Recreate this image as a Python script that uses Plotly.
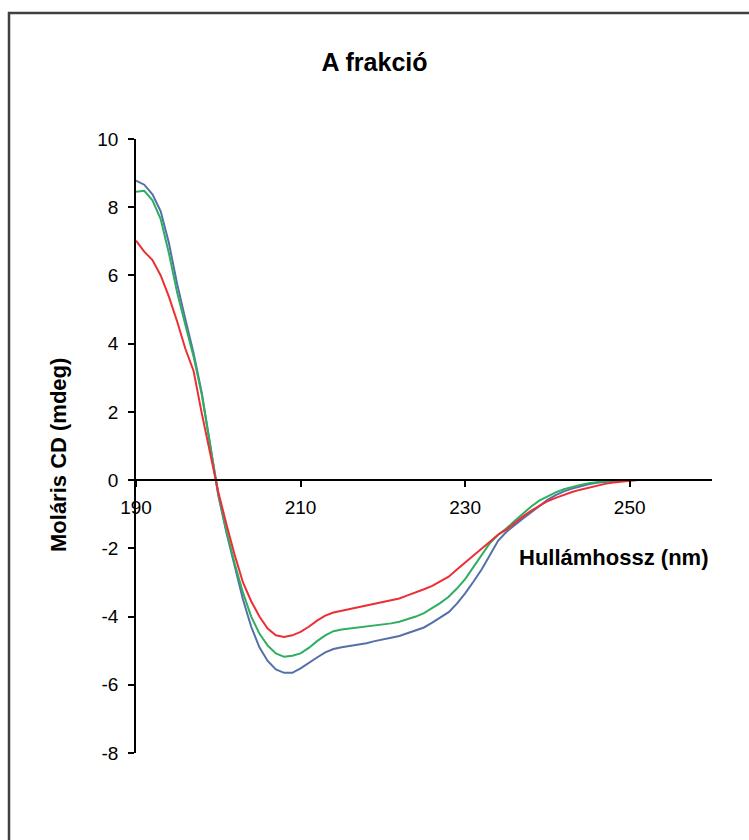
import plotly.graph_objects as go

# Wavelength grid (nm)
wavelength = [190, 191, 192, 193, 194, 195, 196, 197, 198, 199,
              200, 201, 202, 203, 204, 205, 206, 207, 208, 209,
              210, 211, 212, 213, 214, 215, 216, 217, 218, 219,
              220, 221, 222, 223, 224, 225, 226, 227, 228, 229,
              230, 231, 232, 233, 234, 235, 236, 237, 238, 239,
              240, 241, 242, 243, 244, 245, 246, 247, 248, 249,
              250, 251, 252, 253, 254, 255, 256, 257, 258, 259, 260]

# Molar CD (mdeg) for the three measurements
cd_blue = [8.78, 8.66, 8.38, 7.88, 6.95, 5.75, 4.72, 3.72, 2.55, 1.05,
           -0.45, -1.55, -2.55, -3.5, -4.3, -4.9, -5.3, -5.55, -5.65, -5.65,
           -5.52, -5.35, -5.2, -5.05, -4.95, -4.9, -4.86, -4.83, -4.78, -4.72,
           -4.66, -4.62, -4.57, -4.48, -4.4, -4.32, -4.18, -4.03, -3.87, -3.62,
           -3.32, -2.98, -2.62, -2.2, -1.78, -1.52, -1.32, -1.13, -0.95, -0.77,
           -0.58, -0.44, -0.33, -0.25, -0.18, -0.12, -0.08, -0.05, -0.03, -0.01,
           0, 0, 0, 0, 0, 0, 0, 0, 0, 0, 0]

cd_green = [8.45, 8.48, 8.2, 7.65, 6.65, 5.5, 4.55, 3.62, 2.5, 1.0,
            -0.4, -1.5, -2.45, -3.3, -4.0, -4.5, -4.85, -5.08, -5.18, -5.15,
            -5.08, -4.92, -4.72, -4.55, -4.43, -4.38, -4.35, -4.33, -4.3, -4.27,
            -4.24, -4.2, -4.15, -4.08, -4.0, -3.9, -3.76, -3.6, -3.42, -3.18,
            -2.9, -2.55, -2.2, -1.85, -1.6, -1.42, -1.2, -0.98, -0.78, -0.6,
            -0.47, -0.36, -0.27, -0.2, -0.14, -0.09, -0.05, -0.03, -0.01, 0,
            0, 0, 0, 0, 0, 0, 0, 0, 0, 0, 0]

cd_red = [7.02, 6.7, 6.45, 6.0, 5.38, 4.65, 3.85, 3.2, 1.95, 0.75,
          -0.35, -1.3, -2.2, -3.0, -3.55, -4.0, -4.35, -4.55, -4.6, -4.55,
          -4.45, -4.3, -4.12, -3.97, -3.88, -3.83, -3.78, -3.73, -3.68, -3.63,
          -3.58, -3.53, -3.47, -3.38, -3.3, -3.2, -3.1, -2.97, -2.83, -2.62,
          -2.42, -2.2, -2.0, -1.8, -1.6, -1.45, -1.25, -1.07, -0.9, -0.75,
          -0.62, -0.52, -0.43, -0.35, -0.28, -0.22, -0.16, -0.11, -0.07, -0.04,
          -0.02, 0, 0, 0, 0, 0, 0, 0, 0, 0, 0]

x_ticks = [190, 210, 230, 250]
y_ticks = [-8, -6, -4, -2, 0, 2, 4, 6, 8, 10]

series = [
    (cd_blue, "#5470A8"),
    (cd_green, "#2FAE60"),
    (cd_red, "#EC2F35"),
]

FONT = "Liberation Sans, Arial, sans-serif"

fig = go.Figure()
for values, color in series:
    fig.add_trace(go.Scatter(
        x=wavelength, y=values, mode="lines",
        line=dict(color=color, width=2),
        showlegend=False, hoverinfo="skip",
    ))

W, H = 749, 840
L, R, T, B = 136, 37, 139, 87
pw, ph = W - L - R, H - T - B

y_min, y_max = -8, 10

fig.update_layout(
    width=W, height=H,
    margin=dict(l=L, r=R, t=T, b=B),
    paper_bgcolor="white", plot_bgcolor="white",
    font=dict(family=FONT, color="black"),
    title=dict(
        text="<b>A frakció</b>",
        font=dict(family=FONT, size=25),
        x=0.5, xanchor="center", xref="container",
        y=1 - 62 / H, yanchor="middle", yref="container",
    ),
    xaxis=dict(
        range=[190, 260],
        anchor="free",
        position=(0 - y_min) / (y_max - y_min),
        showline=True, linecolor="black", linewidth=1.5,
        ticks="outside", ticklen=6, tickwidth=1.5, tickcolor="black",
        tickvals=x_ticks, ticktext=[str(v) for v in x_ticks],
        tickfont=dict(size=19), ticklabelstandoff=4,
        showgrid=False, zeroline=False,
    ),
    yaxis=dict(
        range=[y_min, y_max],
        showline=True, linecolor="black", linewidth=1.5,
        ticks="outside", ticklen=6, tickwidth=1.5, tickcolor="black",
        tickvals=y_ticks, ticktext=[str(v) for v in y_ticks],
        tickfont=dict(size=19), ticklabelstandoff=6,
        showgrid=False, zeroline=False,
    ),
    annotations=[
        dict(
            text="<b>Moláris CD (mdeg)</b>", textangle=-90,
            xref="paper", yref="paper",
            x=(58 - L) / pw, y=(H - B - 455) / ph,
            xanchor="center", yanchor="middle", showarrow=False,
            font=dict(size=22),
        ),
        dict(
            text="<b>Hullámhossz (nm)</b>",
            xref="paper", yref="paper",
            x=(613 - L) / pw, y=(H - B - 557) / ph,
            xanchor="center", yanchor="middle", showarrow=False,
            font=dict(size=22),
        ),
    ],
    shapes=[
        # chart frame
        dict(
            type="rect", xref="paper", yref="paper",
            x0=(9 - L) / pw, x1=(W + 20 - L) / pw,
            y0=(H - B - (H + 20)) / ph, y1=(H - B - 13) / ph,
            line=dict(color="#404040", width=2.5),
            fillcolor="rgba(0,0,0,0)", layer="below",
        ),
    ],
)

fig.write_html("out.html")
